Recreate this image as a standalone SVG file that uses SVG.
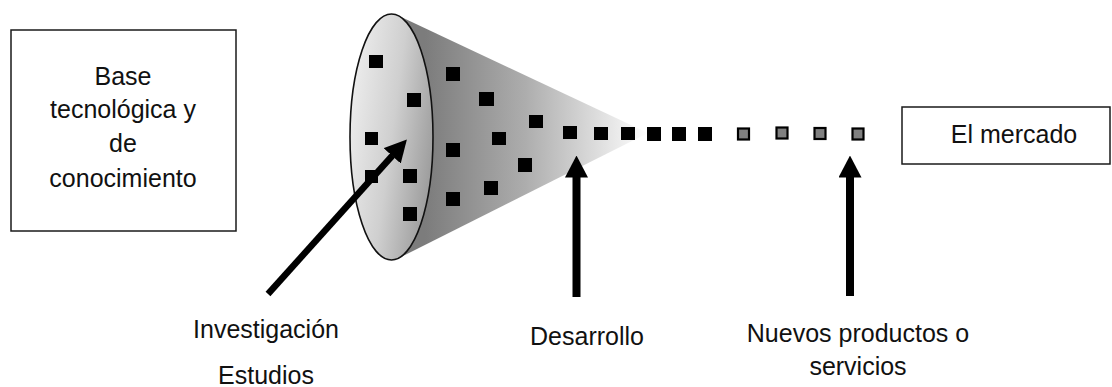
<svg xmlns="http://www.w3.org/2000/svg" width="1112" height="387" viewBox="0 0 1112 387">
  <style>
    .box { fill: #ffffff; stroke: #1a1a1a; stroke-width: 1.5; }
    .lbl { font-family: "Liberation Sans", Arial, sans-serif; font-size: 25px; fill: #111111; text-anchor: middle; }
    .sq { fill: #000000; }
    .gsq { fill: #808080; stroke: #000000; stroke-width: 2.2; }
    .arr { stroke: #000000; fill: none; marker-end: url(#head); }
  </style>
  <defs>
    <linearGradient id="coneGrad" gradientUnits="userSpaceOnUse" x1="425" y1="0" x2="648" y2="0">
      <stop offset="0" stop-color="#7c7c7c"/>
      <stop offset="0.45" stop-color="#adadad"/>
      <stop offset="1" stop-color="#ffffff"/>
    </linearGradient>
    <linearGradient id="faceGrad" x1="0" y1="0.3" x2="1" y2="0.7">
      <stop offset="0" stop-color="#ededed"/>
      <stop offset="0.5" stop-color="#cfcfcf"/>
      <stop offset="1" stop-color="#999999"/>
    </linearGradient>
    <marker id="head" viewBox="0 0 22 23" markerWidth="22" markerHeight="23" refX="0.5" refY="11.5" orient="auto" markerUnits="userSpaceOnUse">
      <path d="M0,0 L22,11.5 L0,23 Z" fill="#000000"/>
    </marker>
  </defs>

  <g id="node-base">
    <rect class="box" x="11" y="30" width="225" height="201"/>
    <text class="lbl" x="123" y="85">Base</text>
    <text class="lbl" x="123" y="118">tecnológica y</text>
    <text class="lbl" x="123" y="152">de</text>
    <text class="lbl" x="123" y="187">conocimiento</text>
  </g>

  <g id="node-cone">
    <path d="M398,15.5 L648,133 L398.4,258.3 L391.5,137 Z" fill="url(#coneGrad)"/>
    <ellipse cx="391.5" cy="137" rx="41.5" ry="123" fill="url(#faceGrad)" stroke="#111111" stroke-width="1.6"/>
    <g id="squares">
      <rect class="sq" x="369" y="55" width="14" height="13"/>
      <rect class="sq" x="407" y="93" width="14" height="14"/>
      <rect class="sq" x="365" y="132" width="13" height="13"/>
      <rect class="sq" x="365" y="170" width="13" height="13"/>
      <rect class="sq" x="403" y="169" width="14" height="14"/>
      <rect class="sq" x="403" y="207" width="14" height="14"/>
      <rect class="sq" x="446" y="67" width="14" height="14"/>
      <rect class="sq" x="479" y="92" width="15" height="14"/>
      <rect class="sq" x="446" y="143" width="14" height="14"/>
      <rect class="sq" x="446" y="192" width="14" height="14"/>
      <rect class="sq" x="492" y="132" width="14" height="13"/>
      <rect class="sq" x="484" y="181" width="14" height="14"/>
      <rect class="sq" x="529" y="115" width="14" height="13"/>
      <rect class="sq" x="518" y="158" width="14" height="14"/>
      <rect class="sq" x="563" y="126" width="14" height="13"/>
      <rect class="sq" x="594" y="127" width="14" height="13"/>
      <rect class="sq" x="621" y="127" width="14" height="13"/>
      <rect class="sq" x="647" y="127" width="14" height="14"/>
      <rect class="sq" x="672" y="127" width="14" height="14"/>
      <rect class="sq" x="698" y="127" width="14" height="14"/>
      <rect class="gsq" x="738" y="128.5" width="11" height="11"/>
      <rect class="gsq" x="776.5" y="127.5" width="11" height="11"/>
      <rect class="gsq" x="814.5" y="128" width="11" height="11"/>
      <rect class="gsq" x="852.5" y="128.5" width="11" height="11"/>
    </g>
  </g>

  <g id="node-mercado">
    <rect class="box" x="902" y="107" width="208" height="57"/>
    <text class="lbl" x="1014" y="143">El mercado</text>
  </g>

  <g id="connectors">
    <line class="arr" x1="268" y1="294" x2="392.5" y2="155.5" stroke-width="6.5"/>
    <line class="arr" x1="576.5" y1="297" x2="576.5" y2="177" stroke-width="8"/>
    <line class="arr" x1="850" y1="296" x2="850" y2="177" stroke-width="8"/>
  </g>

  <g id="labels">
    <text class="lbl" x="266" y="338">Investigación</text>
    <text class="lbl" x="266" y="384">Estudios</text>
    <text class="lbl" x="587" y="345">Desarrollo</text>
    <text class="lbl" x="858" y="342">Nuevos productos o</text>
    <text class="lbl" x="858" y="375">servicios</text>
  </g>
</svg>
